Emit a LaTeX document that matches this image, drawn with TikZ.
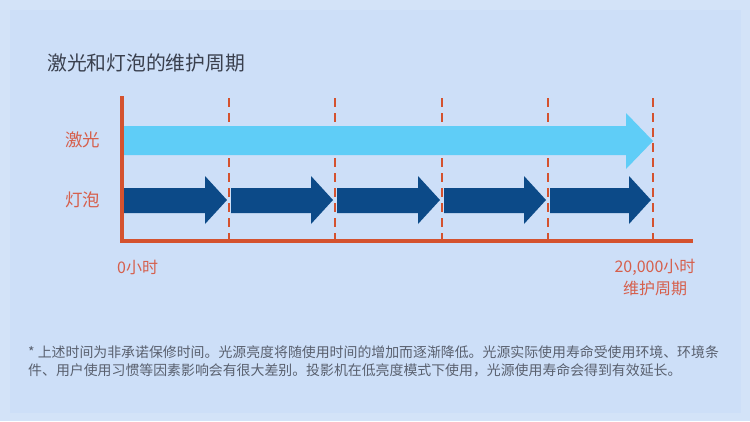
\documentclass[tikz,border=0pt]{standalone}
\usepackage{fontspec}
\setmainfont{Noto Sans CJK SC}
\newfontfamily\cjk{Noto Sans CJK SC}
\definecolor{bgc}{HTML}{CDDFF8}
\definecolor{bgouter}{HTML}{D3E3F8}
\definecolor{axisred}{HTML}{D4522F}
\definecolor{labred}{HTML}{D65F4C}
\definecolor{laser}{HTML}{5FCDF7}
\definecolor{bulb}{HTML}{0C4A88}
\definecolor{titlec}{HTML}{3A404E}
\definecolor{notec}{HTML}{59606E}
\tikzset{
  axisline/.style={draw=axisred,line width=4pt},
  tick/.style={draw=axisred,line width=2.8pt,dash pattern=on 9pt off 6pt},
  rowlabel/.style={text=labred,font=\cjk\fontsize{17.5}{20}\selectfont,inner sep=0pt},
  timelabel/.style={text=labred,font=\cjk\fontsize{16}{20}\selectfont,inner sep=0pt,align=center},
  notetext/.style={text=notec,font=\cjk\fontsize{13.9}{18}\selectfont,inner sep=0pt,anchor=west},
}
\begin{document}
\begin{tikzpicture}[x=1pt,y=-1pt]
\useasboundingbox (0,0) rectangle (750,421);
\fill[bgouter] (0,0) rectangle (750,421);
\fill[bgc] (10,10) rectangle (741,413);
% title
\node[text=titlec,font=\cjk\fontsize{19.8}{22}\selectfont,inner sep=0pt,anchor=west] (title) at (47,63) {激光和灯泡的维护周期};
% dashed ticks
\foreach \x [count=\i] in {229,335,442,548,653}{
  \coordinate (t\i top) at (\x,98);
  \coordinate (t\i bot) at (\x,240);
  \draw[tick] (t\i top) -- (t\i bot);
}
% laser arrow
\fill[laser] (124,126) -- (626,126) -- (626,113) -- (653,141) -- (626,169) -- (626,155) -- (124,155) -- cycle;
% bulb arrows
\foreach \s/\e in {124/229,231/335,337/442,444/548,550/653}{
  \fill[bulb] (\s,188) -- (\e-24,188) -- (\e-24,176) -- (\e-2,200) -- (\e-24,224) -- (\e-24,213) -- (\s,213) -- cycle;
}
% axes
\coordinate (origin) at (122,241);
\coordinate (ytop) at (122,96);
\coordinate (xend) at (693,241);
\draw[axisline] (ytop) -- (origin) -- (xend);
% labels
\node[rowlabel] (laserlab) at (82.5,140) {激光};
\node[rowlabel] (bulblab) at (82.5,200) {灯泡};
\node[timelabel,anchor=west] (zero) at (117,267) {0小时};
\node[timelabel] (end) at (655,278) {20,000小时\\[2pt]维护周期};
% footnote
\node[notetext] (note1) at (28,352) {* 上述时间为非承诺保修时间。光源亮度将随使用时间的增加而逐渐降低。光源实际使用寿命受使用环境、环境条};
\node[notetext] (note2) at (28,370) {件、用户使用习惯等因素影响会有很大差别。投影机在低亮度模式下使用，光源使用寿命会得到有效延长。};
\end{tikzpicture}
\end{document}
